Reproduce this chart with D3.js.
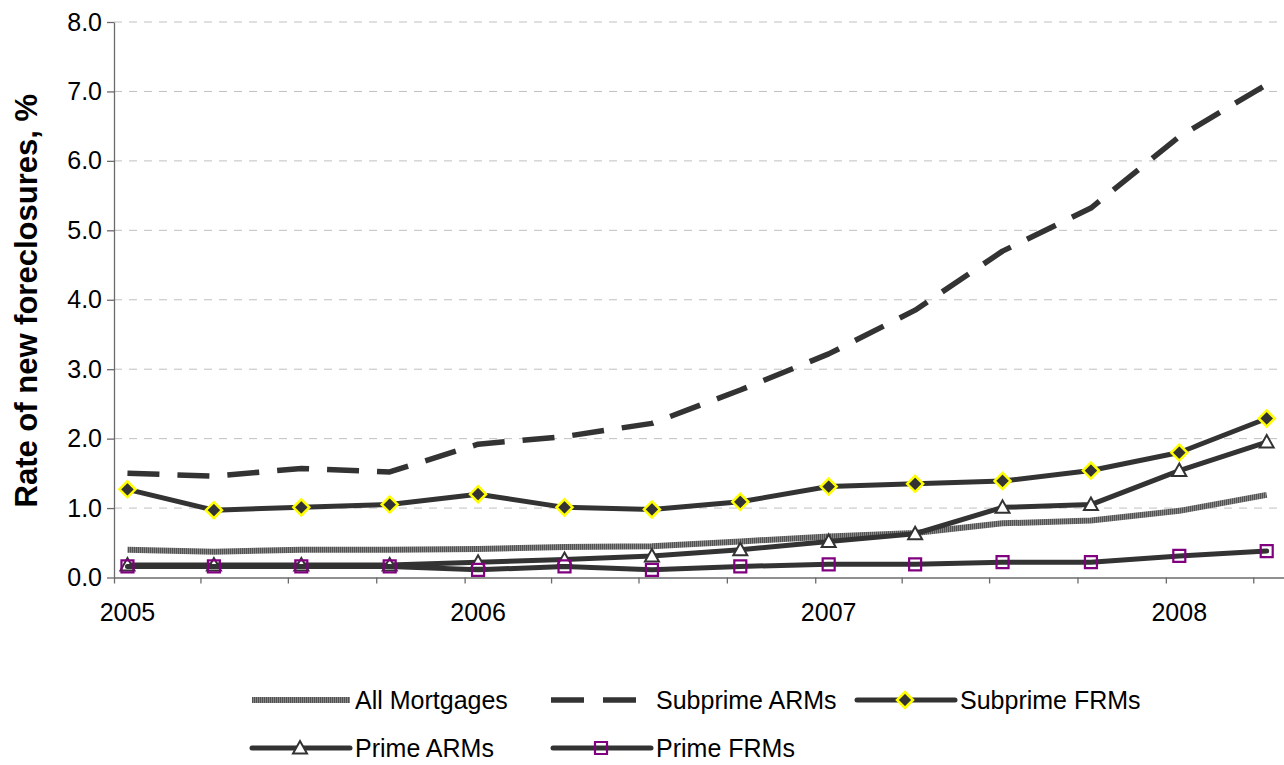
<!DOCTYPE html>
<html>
<head>
<meta charset="utf-8">
<script src="https://cdn.jsdelivr.net/npm/d3@7"></script>
<style>
  html, body { margin: 0; padding: 0; background: #fff; }
  svg { display: block; font-family: "Liberation Sans", Arial, sans-serif; }
</style>
</head>
<body>
<svg id="chart" width="1284" height="765"></svg>
<script>
// Quarterly observation dates (mid-month of each quarter's first month)
const quarterDates = [
  "2005-01-15", "2005-04-15", "2005-07-15", "2005-10-15",
  "2006-01-15", "2006-04-15", "2006-07-15", "2006-10-15",
  "2007-01-15", "2007-04-15", "2007-07-15", "2007-10-15",
  "2008-01-15", "2008-04-15"
];

// Rate of new foreclosures, % of loans
const allMortgages = [0.40, 0.37, 0.40, 0.40, 0.41, 0.44, 0.45, 0.52, 0.59, 0.64, 0.78, 0.82, 0.96, 1.19];
const subprimeARMs = [1.50, 1.46, 1.57, 1.52, 1.92, 2.03, 2.22, 2.70, 3.22, 3.85, 4.70, 5.32, 6.35, 7.10];
const subprimeFRMs = [1.27, 0.97, 1.01, 1.05, 1.20, 1.01, 0.98, 1.09, 1.31, 1.35, 1.39, 1.54, 1.80, 2.29];
const primeARMs    = [0.18, 0.18, 0.18, 0.18, 0.22, 0.26, 0.31, 0.40, 0.52, 0.63, 1.01, 1.05, 1.54, 1.95];
const primeFRMs    = [0.16, 0.16, 0.16, 0.16, 0.11, 0.16, 0.11, 0.16, 0.19, 0.19, 0.22, 0.22, 0.31, 0.38];

const seriesNames = ["All Mortgages", "Subprime ARMs", "Subprime FRMs", "Prime ARMs", "Prime FRMs"];

// Axis ticks and labels
const yTicks = [0, 1, 2, 3, 4, 5, 6, 7, 8];
const yearLabels = ["2005", "2006", "2007", "2008"];
const yearLabelDates = ["2005-01-15", "2006-01-15", "2007-01-15", "2008-01-15"];

const parse = d3.utcParse("%Y-%m-%d");
const svg = d3.select("#chart");

const plot = { left: 114, right: 1284, top: 22, bottom: 577.5 };

const x = d3.scaleUtc()
  .domain([parse("2005-01-01"), parse("2008-05-03")])
  .range([plot.left, plot.right]);

const y = d3.scaleLinear()
  .domain([0, 8])
  .range([plot.bottom, plot.top]);

const dark = "#333333";

// Hatched fill used for the "All Mortgages" stroke
const defs = svg.append("defs");
const hatch = defs.append("pattern")
  .attr("id", "hatch")
  .attr("patternUnits", "userSpaceOnUse")
  .attr("width", 2).attr("height", 2);
hatch.append("rect").attr("width", 2).attr("height", 2).attr("fill", "#878787");
hatch.append("rect").attr("width", 1).attr("height", 2).attr("fill", "#525252");

// Horizontal gridlines
svg.append("g")
  .selectAll("line")
  .data(yTicks.filter(d => d > 0))
  .join("line")
  .attr("x1", plot.left).attr("x2", plot.right)
  .attr("y1", d => y(d)).attr("y2", d => y(d))
  .attr("stroke", "#c0c0c0")
  .attr("stroke-width", 1)
  .attr("stroke-dasharray", "8,7");

// Y axis
const yAxis = svg.append("g")
  .attr("transform", `translate(${plot.left},0)`)
  .call(d3.axisLeft(y).tickValues(yTicks).tickFormat(d3.format(".1f")).tickSize(7).tickSizeOuter(0).tickPadding(5));
yAxis.select(".domain").attr("stroke", "#6b6b6b").attr("stroke-width", 1.3);
yAxis.selectAll(".tick line").attr("stroke", "#6b6b6b").attr("stroke-width", 1.3);
yAxis.selectAll(".tick text")
  .attr("font-size", 25)
  .attr("font-family", "Liberation Sans, Arial, sans-serif")
  .attr("fill", "#000");

// X axis: quarter tick marks
const quarterTicks = d3.utcMonth.every(3).range(parse("2005-01-01"), parse("2008-05-01"));
const xAxis = svg.append("g")
  .attr("transform", `translate(0,${plot.bottom})`)
  .call(d3.axisBottom(x).tickValues(quarterTicks).tickFormat("").tickSize(6).tickSizeOuter(0));
xAxis.select(".domain").attr("stroke", "#6b6b6b").attr("stroke-width", 1.3);
xAxis.selectAll(".tick line").attr("stroke", "#6b6b6b").attr("stroke-width", 1.3);

// Year labels
svg.append("g")
  .selectAll("text")
  .data(yearLabels)
  .join("text")
  .attr("x", (d, i) => x(parse(yearLabelDates[i])))
  .attr("y", 621)
  .attr("text-anchor", "middle")
  .attr("font-size", 25)
  .attr("fill", "#000")
  .text(d => d);

// Y axis title
svg.append("text")
  .attr("transform", `translate(37,${(plot.top + plot.bottom) / 2 + 1}) rotate(-90)`)
  .attr("text-anchor", "middle")
  .attr("font-size", 31)
  .attr("font-weight", "bold")
  .attr("fill", "#000")
  .text("Rate of new foreclosures, %");

// Marker shapes
const markerShapes = {
  diamond: sel => sel.append("path")
    .attr("d", "M0,-8L8,0L0,8L-8,0Z")
    .attr("fill", dark).attr("stroke", "#ffff00").attr("stroke-width", 2.5),
  triangle: sel => sel.append("path")
    .attr("d", "M0,-7L7,5.5L-7,5.5Z")
    .attr("fill", "#fff").attr("stroke", dark).attr("stroke-width", 2),
  square: sel => sel.append("path")
    .attr("d", "M-6,-6H6V6H-6Z")
    .attr("fill", "none").attr("stroke", "#800080").attr("stroke-width", 2.2)
};

const series = [
  { name: seriesNames[0], values: allMortgages, stroke: "url(#hatch)", width: 6, dash: null, legendDash: null, marker: null, cap: "butt" },
  { name: seriesNames[1], values: subprimeARMs, stroke: dark, width: 5.5, dash: "32,18", legendDash: "33,19", marker: null, cap: "butt" },
  { name: seriesNames[2], values: subprimeFRMs, stroke: dark, width: 5, dash: null, legendDash: null, marker: "diamond", cap: "round" },
  { name: seriesNames[3], values: primeARMs, stroke: dark, width: 5, dash: null, legendDash: null, marker: "triangle", cap: "round" },
  { name: seriesNames[4], values: primeFRMs, stroke: dark, width: 5, dash: null, legendDash: null, marker: "square", cap: "round" }
];

const line = d3.line()
  .x((d, i) => x(parse(quarterDates[i])))
  .y(d => y(d));

series.forEach(s => {
  const g = svg.append("g");
  g.append("path")
    .datum(s.values)
    .attr("d", line)
    .attr("fill", "none")
    .attr("stroke", s.stroke)
    .attr("stroke-width", s.width)
    .attr("stroke-linejoin", "round")
    .attr("stroke-linecap", s.cap)
    .attr("stroke-dasharray", s.dash);
  if (s.marker) {
    g.selectAll("g.pt")
      .data(s.values)
      .join("g")
      .attr("class", "pt")
      .attr("transform", (d, i) => `translate(${x(parse(quarterDates[i]))},${y(d)})`)
      .each(function () { markerShapes[s.marker](d3.select(this)); });
  }
});

// Legend: two rows, three columns
const legendCols = [250, 551, 855];
const legendRows = [700, 748];
const legend = svg.append("g");
series.forEach((s, i) => {
  const lx = legendCols[i % 3];
  const ly = legendRows[Math.floor(i / 3)];
  const item = legend.append("g").attr("transform", `translate(${lx},${ly})`);
  item.append("line")
    .attr("x1", s.legendDash ? 0 : 2).attr("x2", s.legendDash ? 86 : 100)
    .attr("y1", 0).attr("y2", 0)
    .attr("stroke", s.stroke)
    .attr("stroke-width", s.width)
    .attr("stroke-linecap", s.cap)
    .attr("stroke-dasharray", s.legendDash);
  if (s.marker) {
    const m = item.append("g").attr("transform", "translate(50,0)");
    markerShapes[s.marker](m);
  }
  item.append("text")
    .attr("x", 105)
    .attr("y", 9)
    .attr("font-size", 25)
    .attr("fill", "#000")
    .text(s.name);
});
</script>
</body>
</html>
